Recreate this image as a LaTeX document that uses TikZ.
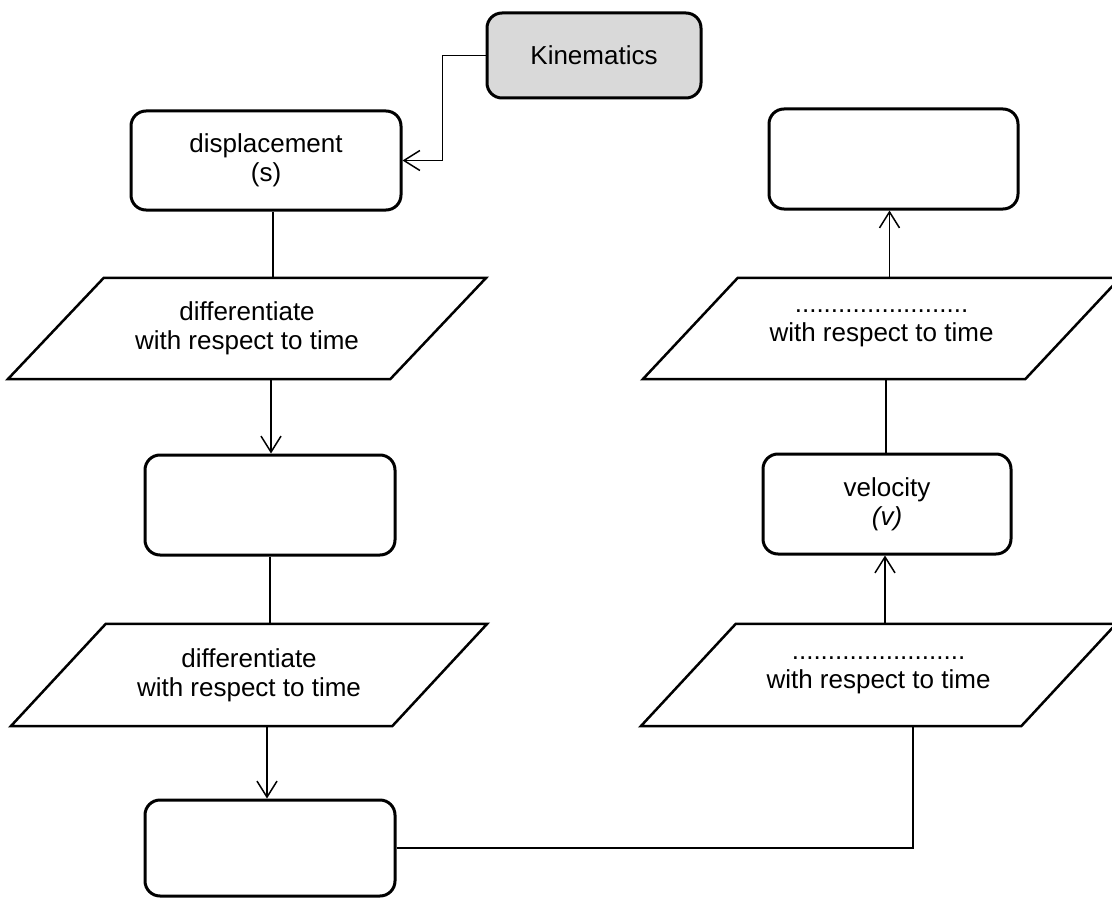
\documentclass[tikz,border=0pt]{standalone}
\usepackage{fontspec}
\setmainfont{Liberation Sans}
\usetikzlibrary{arrows.meta,calc}
\definecolor{kingray}{HTML}{D9D9D9}
\tikzset{
  box/.style={draw=black, line width=3pt, rounded corners=15pt, inner sep=0pt,
    minimum width=#1, minimum height=100pt, align=center,
    font=\fontsize{26pt}{29pt}\selectfont},
  box/.default=250pt,
  para/.style={inner sep=0pt, minimum height=101pt, minimum width=#1, align=center,
    font=\fontsize{26pt}{29pt}\selectfont},
  para/.default=382pt,
  pedge/.style={draw=black, line width=2.5pt, line join=miter},
  conn/.style={draw=black, line width=1.5pt},
  arr/.style={conn, -{Straight Barb[length=16pt,width=20pt,line width=1.5pt]}},
}
\newcommand{\paraoutline}[2]{%
  \path[pedge] ($(#1.south west)+(-#2,0)$) -- ($(#1.south east)+(-#2,0)$)
    -- ($(#1.north east)+(#2,0)$) -- ($(#1.north west)+(#2,0)$) -- cycle;}
\begin{document}
\begin{tikzpicture}[x=1pt,y=-1pt]
\useasboundingbox (0,0) rectangle (1112,899);
% boxes
\node[box=214pt, minimum height=85pt, fill=kingray] (kin) at (594,55.5) {Kinematics};
\node[box=270pt, minimum height=99pt] (disp) at (266,160.5) {displacement\\(s)};
\node[box] (b2) at (270,505) {};
\node[box, minimum height=96pt] (b3) at (270,848) {};
\node[box=249pt] (tr) at (893.5,159) {};
\node[box=248pt] (vel) at (887,504) {velocity\\\textit{(v)}};
% parallelograms
\node[para] (p1) at (247,328.5) {differentiate\\with respect to time};
\paraoutline{p1}{48}
\node[para=381pt, minimum height=102pt] (p2) at (249,675) {differentiate\\with respect to time};
\paraoutline{p2}{47.5}
\node[para] (p3) at (881.5,328.5) {........................\\with respect to time};
\paraoutline{p3}{47.5}
\node[para=380pt, minimum height=102pt] (p4) at (878.5,675) {........................\\with respect to time};
\paraoutline{p4}{47.5}
% connectors
\draw[arr] (kin.west) -- ++(-43,0) |- (disp.east);
\draw[conn] ([xshift=7pt]disp.south) -- ([xshift=7pt]disp.south |- p1.north);
\draw[arr] ([xshift=1pt]b2.north |- p1.south) -- ([xshift=1pt]b2.north);
\draw[conn] (b2.south) -- (b2.south |- p2.north);
\draw[arr] ([xshift=-3pt]b3.north |- p2.south) -- ([xshift=-3pt]b3.north);
\draw[conn] (b3.east) -| ([xshift=34.5pt]p4.south);
\draw[arr] ([xshift=-2pt]vel.south |- p4.north) -- ([xshift=-2pt]vel.south);
\draw[conn] ([xshift=-1pt]vel.north) -- ([xshift=-1pt]vel.north |- p3.south);
\draw[arr] ([xshift=-4pt]tr.south |- p3.north) -- ([xshift=-4pt]tr.south);
\end{tikzpicture}
\end{document}
